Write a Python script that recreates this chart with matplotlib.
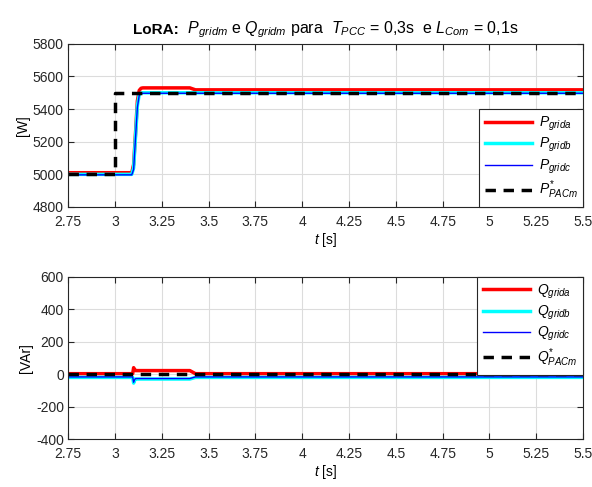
import matplotlib
matplotlib.use("Agg")
import matplotlib.pyplot as plt
from matplotlib.offsetbox import TextArea, HPacker, AnchoredOffsetbox

plt.rcParams['font.family'] = ['Liberation Sans', 'DejaVu Sans']
plt.rcParams['mathtext.fontset'] = 'custom'
plt.rcParams['mathtext.rm'] = 'Liberation Sans'
plt.rcParams['mathtext.it'] = 'Liberation Sans:italic'
plt.rcParams['mathtext.bf'] = 'Liberation Sans:bold'
plt.rcParams['font.size'] = 10
plt.rcParams['axes.unicode_minus'] = False

# time breakpoints [s] and signal values
t = [2.75, 3.09, 3.10, 3.11, 3.12, 3.13, 3.14, 3.15, 3.40, 3.43, 5.5]
p_grida = [5010, 5010, 5060, 5250, 5450, 5515, 5528, 5530, 5530, 5518, 5518]
p_gridb = [5000, 5000, 5040, 5230, 5420, 5490, 5498, 5500, 5500, 5500, 5500]
p_gridc = [4997, 4997, 5030, 5220, 5410, 5485, 5494, 5497, 5497, 5497, 5497]

t_ref = [2.75, 3.0, 3.0, 5.5]
p_ref = [5000, 5000, 5500, 5500]

tq = [2.75, 3.095, 3.10, 3.105, 3.11, 3.12, 3.40, 3.43, 5.5]
q_grida = [3, 3, 40, 30, 22, 22, 22, 3, 3]
q_gridb = [-20, -20, -55, -40, -30, -30, -30, -20, -20]
q_gridc = [-17, -17, -50, -35, -27, -27, -27, -17, -17]
tq_ref = [2.75, 5.5]
q_ref = [0, 0]

xticks = [2.75, 3, 3.25, 3.5, 3.75, 4, 4.25, 4.5, 4.75, 5, 5.25, 5.5]
xticklabels = ['2.75', '3', '3.25', '3.5', '3.75', '4', '4.25', '4.5', '4.75', '5', '5.25', '5.5']

fig = plt.figure(figsize=(5.92, 4.87), dpi=100)
ax1 = fig.add_axes([0.115, 0.575, 0.87, 0.335])
ax2 = fig.add_axes([0.115, 0.0985, 0.87, 0.333])

ax1.plot(t, p_grida, color='#ff0000', lw=2.5, label=r'$P_{grida}$')
ax1.plot(t, p_gridb, color='#00ffff', lw=2.5, label=r'$P_{gridb}$')
ax1.plot(t, p_gridc, color='#0000ff', lw=1.0, label=r'$P_{gridc}$')
ax1.plot(t_ref, p_ref, color='black', lw=2.5, ls=(0, (3, 2.2)), label=r'$P^{*}_{PACm}$')
ax1.set_ylim(4800, 5800)
ax1.set_yticks([4800, 5000, 5200, 5400, 5600, 5800])
ax1.set_ylabel('[W]', labelpad=2)

ax2.plot(tq, q_grida, color='#ff0000', lw=2.5, label=r'$Q_{grida}$')
ax2.plot(tq, q_gridb, color='#00ffff', lw=2.5, label=r'$Q_{gridb}$')
ax2.plot(tq, q_gridc, color='#0000ff', lw=1.0, label=r'$Q_{gridc}$')
ax2.plot(tq_ref, q_ref, color='black', lw=2.5, ls=(0, (3, 2.2)), label=r'$Q^{*}_{PACm}$')
ax2.set_ylim(-400, 600)
ax2.set_yticks([-400, -200, 0, 200, 400, 600])
ax2.set_ylabel('[VAr]', labelpad=2)

for ax, loc in ((ax1, 'lower right'), (ax2, 'upper right')):
    ax.set_xlim(2.75, 5.5)
    ax.set_xticks(xticks)
    ax.set_xticklabels(xticklabels)
    ax.set_xlabel(r'$t$ [s]', labelpad=1)
    ax.grid(True, color='#dcdcdc', lw=0.8)
    ax.set_axisbelow(True)
    ax.tick_params(direction='in', top=True, right=True, length=4, pad=3,
                   colors='#262626', labelcolor='#262626', labelsize=10)
    ax.tick_params(axis='x', pad=6)
    for s in ax.spines.values():
        s.set_color('#262626')
    leg = ax.legend(loc=loc, fancybox=False, framealpha=1, edgecolor='#262626',
                    borderaxespad=0.0, handlelength=3.4, handletextpad=0.5,
                    labelspacing=0.22, borderpad=0.4, fontsize=10)
    leg.get_frame().set_linewidth(0.8)

title_bold = TextArea('LoRA:', textprops=dict(fontsize=11, fontweight='bold', color='black'))
title_rest = TextArea(r'  $P_{gridm}$ e $Q_{gridm}$ para  $T_{PCC}$ = 0,3s  e $L_{Com}$ = 0,1s',
                      textprops=dict(fontsize=11.5, color='black'))
title_box = HPacker(children=[title_bold, title_rest], align='baseline', pad=0, sep=0)
anchored = AnchoredOffsetbox(loc='lower center', child=title_box, frameon=False, pad=0,
                             borderpad=0.25, bbox_to_anchor=(0.5, 1.0),
                             bbox_transform=ax1.transAxes)
ax1.add_artist(anchored)

fig.savefig('out.png', dpi=100)
